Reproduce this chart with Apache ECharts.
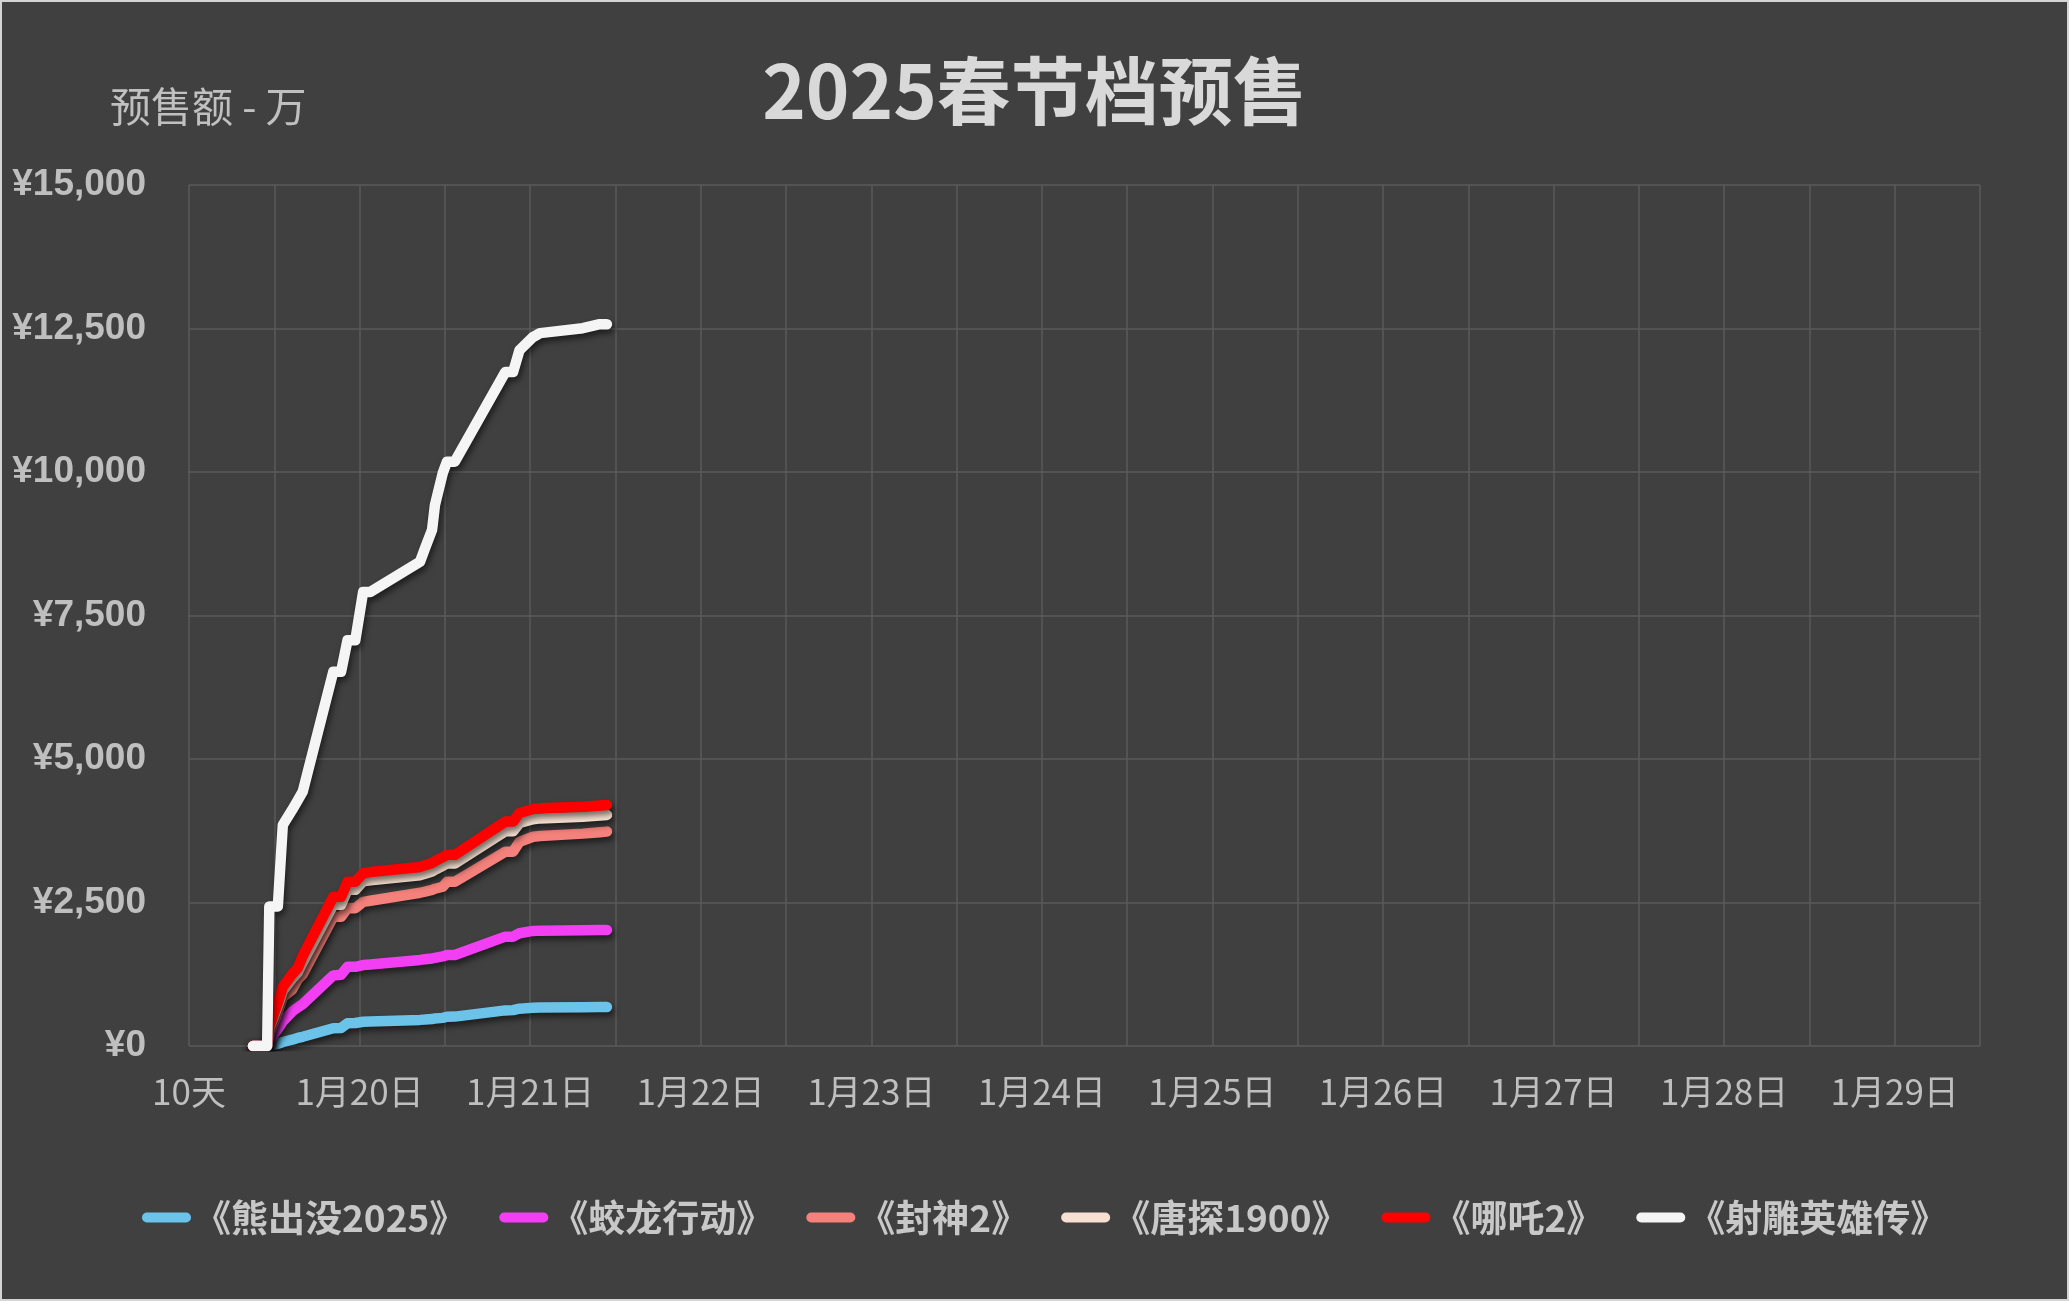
<!DOCTYPE html>
<html>
<head>
<meta charset="utf-8">
<style>
  html, body { margin: 0; padding: 0; background: #d4d4d4; width: 2069px; height: 1301px; overflow: hidden; }
  #chart { position: absolute; left: 2px; top: 2px; width: 2065px; height: 1297px; background: #404040; }
</style>
<script src="https://cdn.jsdelivr.net/npm/echarts@6/dist/echarts.min.js"></script>
</head>
<body>
<div id="chart"></div>
<script>
// ---- data ----
const titleText = '2025春节档预售';
const yAxisName = '预售额 - 万';
const xLabels = ['10天', '1月20日', '1月21日', '1月22日', '1月23日', '1月24日', '1月25日', '1月26日', '1月27日', '1月28日', '1月29日'];
// hours since 1月19日 00:00
const hours = [9, 11, 11.3, 12.5, 13.2, 14.5, 15.3, 16, 20.3, 21.4, 22.3, 23.4, 24.5, 25.5, 32.5, 33.2, 34.2, 34.6, 35.7, 36.3, 37.4, 44.5, 45.6, 46.5, 48.4, 49.4, 55.4, 57.8, 58.8];
const seriesNames = ['《熊出没2025》', '《蛟龙行动》', '《封神2》', '《唐探1900》', '《哪吒2》', '《射雕英雄传》'];
const xiongchumo = [0, 0, 0, 40, 70, 110, 140, 160, 310, 315, 395, 400, 423, 428, 455, 460, 470, 480, 490, 510, 512, 620, 625, 650, 665, 670, 675, 678, 678];
const jiaolong = [0, 0, 100, 300, 430, 600, 670, 730, 1230, 1240, 1380, 1380, 1410, 1420, 1500, 1510, 1525, 1535, 1560, 1585, 1585, 1905, 1905, 1965, 2005, 2010, 2015, 2020, 2020];
const fengshen = [0, 0, 200, 600, 850, 980, 1160, 1250, 2250, 2250, 2400, 2400, 2510, 2530, 2670, 2690, 2720, 2740, 2775, 2860, 2860, 3385, 3385, 3555, 3645, 3660, 3700, 3725, 3735];
const tangtan = [0, 0, 300, 700, 960, 1170, 1280, 1460, 2460, 2460, 2720, 2720, 2870, 2885, 2975, 3000, 3040, 3070, 3140, 3180, 3180, 3740, 3740, 3885, 3950, 3965, 3995, 4015, 4025];
const nezha = [0, 0, 340, 760, 1030, 1250, 1360, 1570, 2600, 2600, 2860, 2860, 3010, 3030, 3120, 3150, 3190, 3220, 3290, 3330, 3330, 3910, 3910, 4060, 4130, 4140, 4170, 4190, 4200];
const shediao = [0, 0, 2430, 2430, 3850, 4110, 4280, 4430, 6520, 6520, 7070, 7070, 7910, 7910, 8435, 8670, 8990, 9420, 9980, 10180, 10180, 11740, 11740, 12120, 12350, 12420, 12505, 12575, 12575];
const seriesValues = [xiongchumo, jiaolong, fengshen, tangtan, nezha, shediao];
const colors = ['#6cc3ea', '#f33ff3', '#f4817b', '#f7e0d1', '#ff0000', '#f5f5f5'];

// ---- chart ----
const chart = echarts.init(document.getElementById('chart'));
const cjk = '"Noto Sans CJK SC", "Noto Sans", sans-serif';
const pill = 'path://M5,0H44A5,5,0,0,1,44,10H5A5,5,0,0,1,5,0Z';

const series = seriesNames.map((name, i) => ({
  name: name,
  type: 'line',
  symbol: 'none',
  smooth: false,
  data: hours.map((h, k) => [h, seriesValues[i][k]]),
  color: colors[i],
  lineStyle: {
    width: 10.5,
    color: colors[i],
    cap: 'round',
    join: 'round',
    shadowColor: 'rgba(0,0,0,0.55)',
    shadowBlur: 6,
    shadowOffsetX: 2,
    shadowOffsetY: 4
  },
  emphasis: { disabled: true }
}));

chart.setOption({
  animation: false,
  backgroundColor: '#404040',
  title: [
    {
      text: titleText,
      left: 'center',
      top: 47,
      textStyle: { color: '#d9d9d9', fontSize: 74, fontWeight: 'bold', fontFamily: cjk }
    },
    {
      text: yAxisName,
      left: 103,
      top: 79,
      textStyle: { color: '#c0c0c0', fontSize: 41, fontWeight: 'normal', fontFamily: cjk }
    }
  ],
  legend: {
    data: seriesNames,
    left: 140,
    top: 1197,
    padding: 0,
    icon: pill,
    itemWidth: 49,
    itemHeight: 10,
    itemGap: 33,
    itemStyle: { borderWidth: 0, shadowBlur: 0, shadowColor: 'transparent' },
    textStyle: { color: '#c8c8c8', fontSize: 37, fontWeight: 'bold', fontFamily: cjk, padding: [0, 0, 0, -2] }
  },
  grid: { left: 187, right: 87, top: 183, bottom: 253, containLabel: false },
  xAxis: {
    type: 'value',
    min: 0,
    max: 252,
    interval: 12,
    axisLine: { show: false },
    axisTick: { show: false },
    splitLine: { show: true, lineStyle: { color: '#5a5a5a', width: 1.5 } },
    axisLabel: {
      color: '#bfbfbf',
      fontSize: 35,
      fontFamily: cjk,
      margin: 28,
      showMaxLabel: false,
      formatter: function (v) { return (v % 24 === 0) ? (xLabels[v / 24] || '') : ''; }
    }
  },
  yAxis: {
    type: 'value',
    min: 0,
    max: 15000,
    interval: 2500,
    axisLine: { show: false },
    axisTick: { show: false },
    splitLine: { show: true, lineStyle: { color: '#5a5a5a', width: 1.5 } },
    axisLabel: {
      color: '#bfbfbf',
      fontSize: 37,
      fontWeight: 'bold',
      fontFamily: '"Liberation Sans", Arial, sans-serif',
      margin: 43,
      formatter: function (v) { return '¥' + String(v).replace(/\B(?=(\d{3})+(?!\d))/g, ','); }
    }
  },
  series: series
});
</script>
</body>
</html>
